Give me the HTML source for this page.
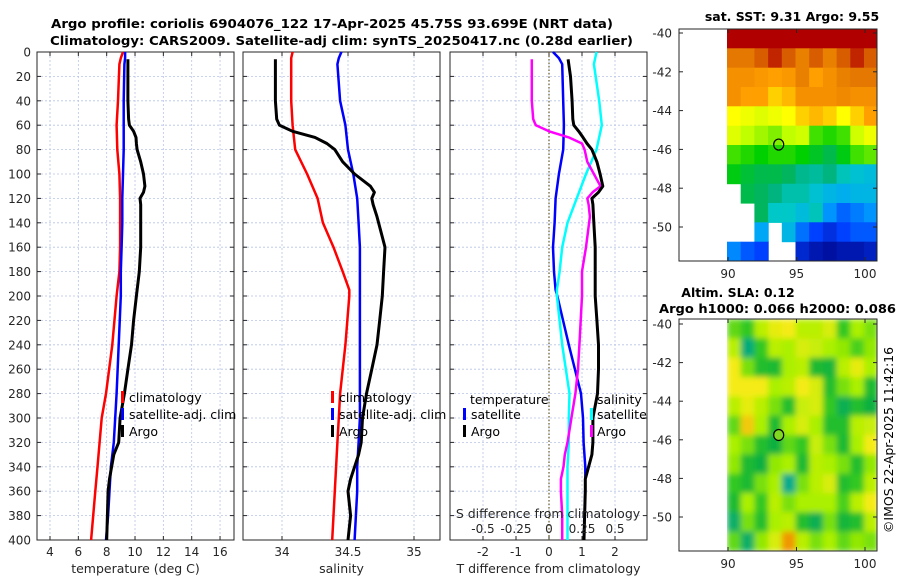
<!DOCTYPE html>
<html><head><meta charset="utf-8"><style>
html,body{margin:0;padding:0;background:#fff;}
svg{display:block;font-family:"DejaVu Sans","Liberation Sans",sans-serif;}
</style></head><body>
<svg id="fig" xmlns="http://www.w3.org/2000/svg" width="900" height="580" viewBox="0 0 900 580">
<text x="51" y="28" font-size="12.5" font-weight="bold" fill="#000" textLength="562" lengthAdjust="spacingAndGlyphs">Argo profile: coriolis 6904076_122 17-Apr-2025 45.75S 93.699E (NRT data)</text>
<text x="50" y="45" font-size="12.5" font-weight="bold" fill="#000" textLength="583" lengthAdjust="spacingAndGlyphs">Climatology: CARS2009. Satellite-adj clim: synTS_20250417.nc (0.28d earlier)</text>
<g id="plots"></g>
</svg>
<script>
// ---- profile data ----
const depthsA = [6,20,40,55,60,65,70,75,80,90,100,110,115,120,125,135,160,180,200,220,240,260,280,300,320,330,340,350,360,380,400];
const argoT = [9.5,9.5,9.5,9.55,9.6,9.9,10.07,10.1,10.15,10.4,10.6,10.7,10.6,10.35,10.4,10.4,10.4,10.3,10.1,9.9,9.75,9.5,9.25,8.95,8.85,8.5,8.35,8.2,8.1,8.05,8.0];
const argoS = [33.95,33.95,33.95,33.96,33.98,34.08,34.25,34.34,34.4,34.46,34.55,34.67,34.7,34.68,34.69,34.72,34.78,34.77,34.76,34.74,34.72,34.68,34.64,34.61,34.6,34.58,34.55,34.52,34.5,34.52,34.5];
const argoDT = [0.58,0.65,0.7,0.72,0.75,0.9,1.03,1.15,1.3,1.45,1.55,1.63,1.5,1.3,1.33,1.35,1.4,1.4,1.4,1.45,1.5,1.5,1.47,1.33,1.33,1.3,1.2,1.1,1.1,1.08,1.06];
const argoDS = [-0.13,-0.13,-0.13,-0.12,-0.1,0.0,0.15,0.25,0.27,0.29,0.34,0.39,0.33,0.29,0.3,0.31,0.28,0.25,0.25,0.24,0.23,0.22,0.2,0.17,0.14,0.12,0.11,0.09,0.09,0.1,0.1];
const depthsC = [0,5,10,40,60,80,100,120,140,160,180,195,200,240,280,300,320,340,360,380,400];
const climT = [9.15,9.0,8.9,8.8,8.7,8.75,8.9,8.95,8.95,8.95,8.9,8.75,8.7,8.4,7.95,7.65,7.5,7.35,7.2,7.05,6.9];
const satT = [9.3,9.3,9.25,9.2,9.2,9.2,9.15,9.1,9.1,9.05,9.0,9.0,9.0,8.85,8.7,8.6,8.5,8.3,8.2,8.1,7.95];
const climS = [34.08,34.07,34.07,34.07,34.08,34.1,34.19,34.27,34.31,34.39,34.46,34.51,34.51,34.48,34.44,34.43,34.42,34.41,34.4,34.39,34.38];
const satS = [34.45,34.43,34.42,34.44,34.48,34.5,34.54,34.57,34.58,34.59,34.59,34.59,34.59,34.59,34.59,34.59,34.58,34.57,34.57,34.56,34.55];
const satDT = [0.12,0.3,0.4,0.43,0.45,0.43,0.3,0.2,0.17,0.12,0.15,0.2,0.25,0.6,0.97,1.03,1.05,1.1,1.1,1.08,1.06];
const satDS = [0.36,0.35,0.34,0.38,0.4,0.36,0.28,0.21,0.14,0.1,0.08,0.06,0.06,0.1,0.155,0.15,0.15,0.14,0.14,0.14,0.14];
const depthTicks = [0,20,40,60,80,100,120,140,160,180,200,220,240,260,280,300,320,340,360,380,400];
const tempTicks = [4,6,8,10,12,14,16];
const salTicks = [34,34.5,35];
const salTickLabels = ["34","34.5","35"];
const dTTicks = [-2,-1,0,1,2];
const dSTicks = [-0.5,-0.25,0,0.25,0.5];
const dSTickLabels = ["-0.5","-0.25","0","0.25","0.5"];
// ---- map data (rows lat -40..-51, cols lon 90..100) ----
const sstLats = [-40,-41,-42,-43,-44,-45,-46,-47,-48,-49,-50,-51];
const sstLons = [90,91,92,93,94,95,96,97,98,99,100];
const sstVals = [
[12,12,12,12,12,12,12,12,12,12,12],
[11.3,11.3,11.5,11.8,11.5,11.2,11.5,11.2,11.5,11.8,11.5],
[11,11,10.9,10.8,10.9,11.2,10.8,11,11.2,11.3,11.3],
[11,10.8,10.8,10.6,10.7,11,11,11,11.1,11,11],
[10.4,10.3,10.2,10.3,10.4,10.6,10.7,10.6,10.4,10.6,10.8],
[10.2,10,9.9,9.8,10,10.1,9.6,9.5,9.6,10.1,10.3],
[9.6,9.5,9.4,9.5,9.5,9.4,9.2,9.0,9.3,9.6,9.7],
[9.3,9.1,9,9,8.9,8.6,8.5,8.7,8.3,8.1,8],
[null,9,8.9,8.7,8.4,8.4,8.1,7.9,7.8,7.9,7.9],
[null,null,8.9,8.2,8.2,8,8.3,7.5,7.1,7.3,7.5],
[null,null,7.7,null,7.9,7.2,6.8,6.6,6.8,7.0,7.0],
[7.4,7.0,6.8,null,null,6.5,6.3,6.2,6.3,6.3,6.4]];
const slaVals = [
[0.2,0.0,0.6,0.9,1.0,0.6,0.6,0.8,0.0,0.5,0.3],
[0.6,-0.8,0.0,0.6,0.5,0.8,0.7,0.5,0.4,0.1,0.4],
[1.0,0.3,-0.2,-0.3,0.5,0.6,-0.3,-0.4,0.6,0.9,0.5],
[1.0,1.0,1.0,0.5,0.6,1.0,0.8,-0.2,0.3,0.5,-0.3],
[0.6,0.9,0.6,0.3,-0.2,0.7,0.8,0,-0.6,-0.2,-0.5],
[0.2,1.2,0.5,-0.3,0.5,0.8,0.5,-0.2,-0.2,0.6,0.7],
[0.5,0.3,-0.2,-0.5,0.2,0.0,0.7,0.3,-0.3,0.5,1.0],
[0.4,-0.3,-0.5,0.4,0.5,-0.3,0.6,0.5,0.3,-0.2,0.4],
[0.0,-0.3,0.3,0.5,-0.9,0.3,0.6,0.8,-0.2,0.0,0.6],
[-0.3,0.5,0.0,0.6,0.3,0.5,0.5,0.5,0.1,0.6,1.0],
[-0.7,0.3,-0.2,0.5,0.6,-0.2,-0.6,0.3,-0.4,-0.2,0.6],
[0.2,-0.7,0.4,0.8,1.5,0.6,0.3,0.5,0.2,0.4,0.3]];
const mapLatTicks = [-40,-42,-44,-46,-48,-50];
const mapLonTicks = [90,95,100];
const argoLon = 93.7, argoLat = -45.75;

const NS = "http://www.w3.org/2000/svg";
const root = document.getElementById('plots');
function el(tag, attrs, parent){ const e=document.createElementNS(NS,tag); for(const k in attrs) e.setAttribute(k,attrs[k]); (parent||root).appendChild(e); return e; }
function txt(x,y,s,attrs,parent){ const t=el('text',Object.assign({x:x,y:y,'font-size':12,fill:'#262626'},attrs||{}),parent); t.textContent=s; return t; }

const TOP=52, BOT=540;
const yD = d => TOP + d*(BOT-TOP)/400;
const xT = t => 50 + (t-4)*14.17;
const xS = s => 282 + (s-34)*132;
const xDT = d => 549 + d*33;
const xDS = s => 549 + s*132;

function panel(name,x0,x1,xt,ticks,labels,xlabel,showDepth){
  const g = el('g',{});
  
  
  depthTicks.forEach(d=>{ const l=el('line',{x1:x0,x2:x1,y1:yD(d),y2:yD(d),stroke:'#b8c4e8','stroke-width':0.8,'stroke-dasharray':'2,2'},g);
      });
  ticks.forEach((t,i)=>{ const X=xt(t);
    const l=el('line',{x1:X,x2:X,y1:TOP,y2:BOT,stroke:'#b8c4e8','stroke-width':0.8,'stroke-dasharray':'2,2'},g);
     
    el('line',{x1:X,x2:X,y1:BOT,y2:BOT-4,stroke:'#262626'},g);
    el('line',{x1:X,x2:X,y1:TOP,y2:TOP+4,stroke:'#262626'},g);
    if(labels){ const tl=txt(X,556,labels[i],{'text-anchor':'middle'},g);
        }
  });
  depthTicks.forEach(d=>{ el('line',{x1:x0,x2:x0+4,y1:yD(d),y2:yD(d),stroke:'#262626'},g); el('line',{x1:x1,x2:x1-4,y1:yD(d),y2:yD(d),stroke:'#262626'},g);
    if(showDepth){ const tl=txt(31,yD(d)+4.5,String(d),{'text-anchor':'end'},g);
        } });
  const fr=el('rect',{x:x0,y:TOP,width:x1-x0,height:BOT-TOP,fill:'none',stroke:'#262626','stroke-width':1},g);
   
  if(xlabel){ const xl=txt((x0+x1)/2,573,xlabel,{'text-anchor':'middle','font-size':12.5},g);
      }
  return g;
}
function line(g,name,depths,vals,xf,color,w){
  const pts = depths.map((d,i)=>xf(vals[i]).toFixed(1)+','+yD(d).toFixed(1)).join(' ');
  const p=el('polyline',{points:pts,fill:'none',stroke:color,'stroke-width':w,'stroke-linejoin':'round'},g);
  
  
}
function legend(g,x,y,color,label,tx){
  const r=el('rect',{x:x,y:y-8,width:3,height:12,fill:color},g);
   
  if(label){ const t=txt(tx!==undefined?tx:x+7,y+3,label,{fill:'#000','font-size':12.5},g);
      }
}

const g1 = panel('temperature-panel',37,234,xT,tempTicks,tempTicks.map(String),'temperature (deg C)',true);
line(g1,'climatology-temp-line',depthsC,climT,xT,'#ff0000',2.5);
line(g1,'satellite-temp-line',depthsC,satT,xT,'#0000ff',2.5);
line(g1,'argo-temp-line',depthsA,argoT,xT,'#000',3);
legend(g1,121,399,'#ff0000','climatology',129);
legend(g1,121,416,'#0000ff','satellite-adj. clim',129);
legend(g1,121,433,'#000','Argo',129);

const g2 = panel('salinity-panel',243,440,xS,salTicks,salTickLabels,'salinity',false);
line(g2,'climatology-sal-line',depthsC,climS,xS,'#ff0000',2.5);
line(g2,'satellite-sal-line',depthsC,satS,xS,'#0000ff',2.5);
line(g2,'argo-sal-line',depthsA,argoS,xS,'#000',3);
legend(g2,331,399,'#ff0000','climatology',339);
legend(g2,331,416,'#0000ff','satellite-adj. clim',339);
legend(g2,331,433,'#000','Argo',339);

const g3 = panel('difference-panel',450,647,xDT,dTTicks,dTTicks.map(String),'T difference from climatology',false);
const zl=el('line',{x1:xDT(0),x2:xDT(0),y1:TOP,y2:BOT,stroke:'#6b5a2a','stroke-width':1.2,'stroke-dasharray':'1.5,2'},g3);
 
line(g3,'satellite-temp-diff-line',depthsC,satDT,xDT,'#0000ff',2.5);
line(g3,'satellite-sal-diff-line',depthsC,satDS,xDS,'#00ffff',2.5);
line(g3,'argo-sal-diff-line',depthsA,argoDS,xDS,'#ff00ff',2.5);
line(g3,'argo-temp-diff-line',depthsA,argoDT,xDT,'#000',3);
const lt=txt(470,404,'temperature',{fill:'#000','font-size':12.5},g3);  
const ls=txt(597,404,'salinity',{fill:'#000','font-size':12.5},g3);  
legend(g3,463,416,'#0000ff','satellite',471);
legend(g3,463,433,'#000','Argo',471);
legend(g3,590,416,'#00ffff','satellite',597);
legend(g3,590,433,'#ff00ff','Argo',597);
const st=txt(548,518,'S difference from climatology',{'text-anchor':'middle','font-size':12.5},g3);
 
dSTicks.forEach((s,i)=>{ const t=txt(xDS(s),533,dSTickLabels[i],{'text-anchor':'middle'},g3);
    });

function lerpColor(stops,v){
  if(v<=stops[0][0]) return stops[0][1];
  for(let i=1;i<stops.length;i++){ if(v<=stops[i][0]){ const a=stops[i-1],b=stops[i],t=(v-a[0])/(b[0]-a[0]);
    const ca=a[1],cb=b[1]; return [0,1,2].map(k=>Math.round(ca[k]+(cb[k]-ca[k])*t)); } }
  return stops[stops.length-1][1];
}
function rgb(c){ return 'rgb('+c.join(',')+')'; }
const sstStops=[[6,[0,0,128]],[6.8,[0,64,255]],[7.6,[0,160,255]],[8.2,[0,200,200]],[8.8,[0,176,112]],[9.4,[0,208,0]],[10,[192,255,0]],[10.4,[255,255,0]],[10.8,[255,160,0]],[11.4,[224,112,0]],[12,[176,0,0]]];
const slaStops=[[-1,[0,170,160]],[-0.5,[16,176,64]],[0,[48,200,32]],[0.5,[170,240,0]],[1,[245,235,20]],[1.5,[240,150,0]]];

function mapPanel(name,top,bottom,latTop,latPix,vals,stops,blur){
  const g=el('g',{});
  
  
  const L=679,R=877,lon0=728,lonPix=13.7;
  const xL = lon => lon0 + (lon-90)*lonPix;
  const yL = lat => latTop + (-40-lat)*latPix;
  const cid=name+'-clip';
  const cp=el('clipPath',{id:cid},g); el('rect',{x:727,y:top,width:R-727,height:bottom-top},cp);
  const cells=el('g',{'clip-path':'url(#'+cid+')'},g);
  const inner=el('g',blur?{filter:'url(#blur)'}:{},cells);
  const rowH=(bottom-top)/sstLats.length;
  sstLats.forEach((lat,r)=>sstLons.forEach((lon,c)=>{
    const v=vals[r][c]; if(v===null) return;
    const x=xL(lon)-1, y=top+r*rowH;
    const rc=el('rect',{x:x.toFixed(1),y:y.toFixed(1),width:(lonPix+0.6).toFixed(1),height:(rowH+0.6).toFixed(1),fill:rgb(lerpColor(stops,v))},inner);
    
    
  }));
  const fr=el('rect',{x:L,y:top,width:R-L,height:bottom-top,fill:'none',stroke:'#262626'},g);
   
  mapLatTicks.forEach(lat=>{ const y=yL(lat); el('line',{x1:L,x2:L+4,y1:y,y2:y,stroke:'#262626'},g); el('line',{x1:R,x2:R-4,y1:y,y2:y,stroke:'#262626'},g);
    const t=txt(672,y+4.5,String(lat),{'text-anchor':'end'},g);   });
  mapLonTicks.forEach(lon=>{ const x=xL(lon); el('line',{x1:x,x2:x,y1:bottom,y2:bottom-4,stroke:'#262626'},g); el('line',{x1:x,x2:x,y1:top,y2:top+4,stroke:'#262626'},g);
    const t=txt(x,bottom+17,String(lon),{'text-anchor':'middle'},g);   });
  const m=el('ellipse',{cx:xL(argoLon),cy:yL(argoLat),rx:5,ry:5.5,fill:blur?'#80d820':'none',stroke:'#000','stroke-width':1.2},g);
   
  return g;
}
const defs=el('defs',{}); const f=el('filter',{id:'blur',x:'-5%',y:'-5%',width:'110%',height:'110%'},defs); el('feGaussianBlur',{stdDeviation:3},f);
mapPanel('sst-map',29,261,33,19.4,sstVals,sstStops,false);
mapPanel('sla-map',319,551,324,19.3,slaVals,slaStops,true);
const mt1=txt(792,21,'sat. SST: 9.31 Argo: 9.55',{'text-anchor':'middle','font-weight':'bold',fill:'#000','font-size':12.5});  
const mt2=txt(738,297,'Altim. SLA: 0.12',{'text-anchor':'middle','font-weight':'bold',fill:'#000','font-size':12.5});  
const mt3=txt(659,313,'Argo h1000: 0.066 h2000: 0.086',{'font-weight':'bold',fill:'#000','font-size':12.5,textLength:237,lengthAdjust:'spacingAndGlyphs'});  
const cr=txt(0,0,'©IMOS 22-Apr-2025 11:42:16',{'text-anchor':'middle',fill:'#000','font-size':12.5,transform:'translate(893,440) rotate(-90)'});  
</script>
</body></html>
